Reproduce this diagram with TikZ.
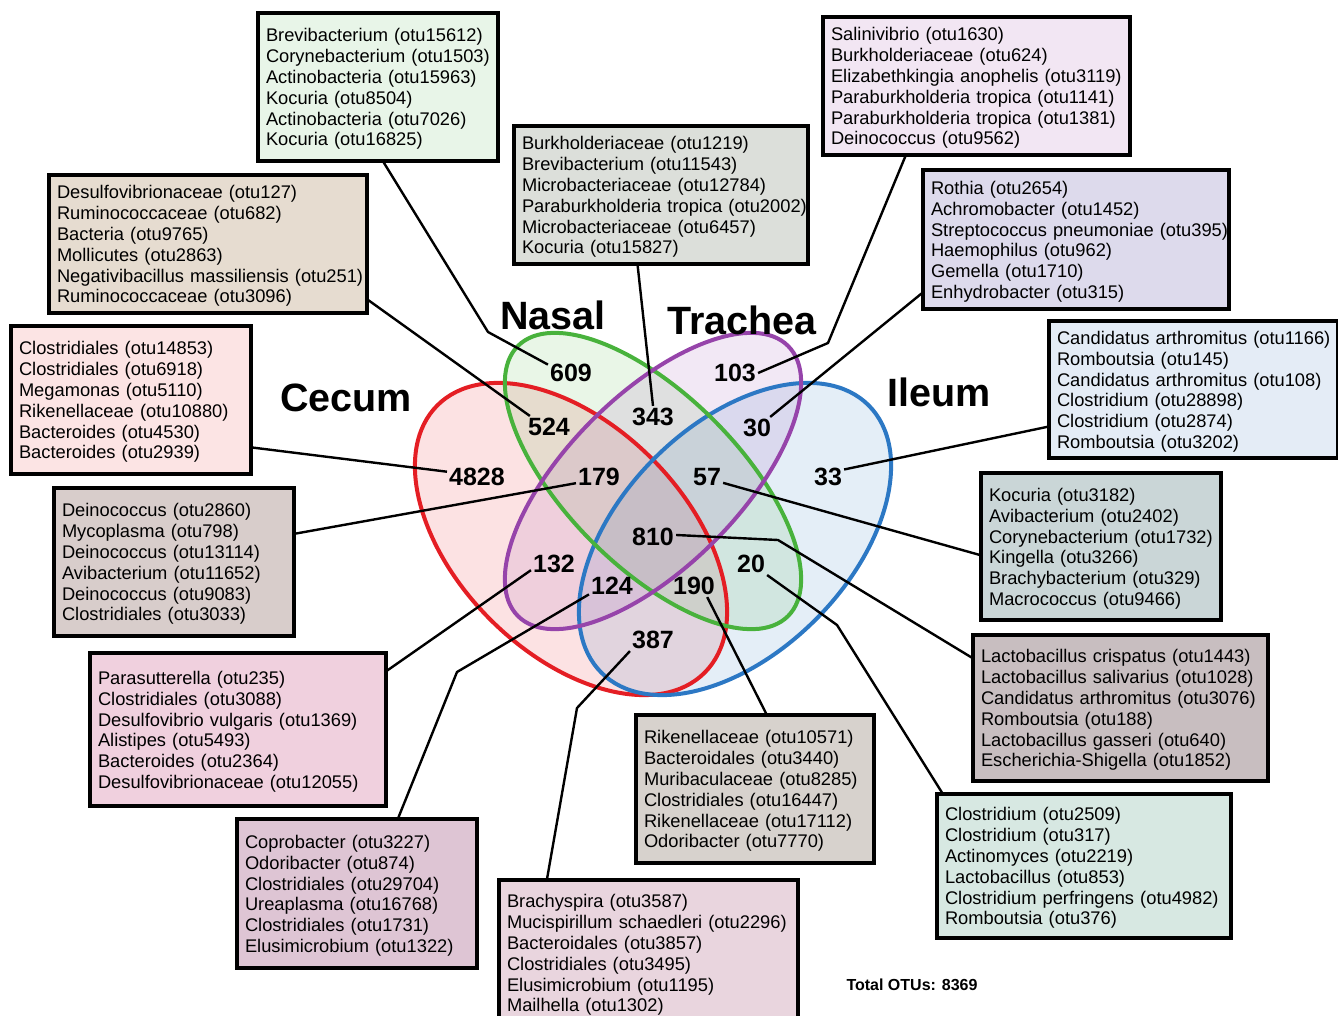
\documentclass[tikz,border=0pt]{standalone}
\usepackage{fontspec}
\setmainfont{Liberation Sans}
\usetikzlibrary{calc}
\definecolor{cred}{RGB}{228,30,36}
\definecolor{cgreen}{RGB}{72,178,60}
\definecolor{cpurple}{RGB}{150,68,170}
\definecolor{cblue}{RGB}{44,120,196}
\definecolor{f609}{RGB}{232,245,232}
\definecolor{f524}{RGB}{230,220,208}
\definecolor{f4828}{RGB}{252,228,228}
\definecolor{f179}{RGB}{216,205,203}
\definecolor{f132}{RGB}{240,208,222}
\definecolor{f124}{RGB}{222,197,212}
\definecolor{f387}{RGB}{233,213,222}
\definecolor{f190}{RGB}{215,210,205}
\definecolor{f20}{RGB}{215,232,226}
\definecolor{f810}{RGB}{200,190,192}
\definecolor{f57}{RGB}{202,214,215}
\definecolor{f33}{RGB}{228,236,246}
\definecolor{f30}{RGB}{221,218,236}
\definecolor{f103}{RGB}{242,230,243}
\definecolor{f343}{RGB}{220,223,218}
\newcommand{\otulist}[1]{\noindent\raisebox{0pt}[\dimexpr\height+5.5pt\relax][\depth]{\begin{tabular}{@{}l@{}}#1\end{tabular}}}
\begin{document}
\begin{tikzpicture}[x=1pt,y=-1pt,
  otubox/.style={draw=black, line width=3.6pt, rectangle, inner xsep=8pt, inner ysep=2pt,
    outer sep=0pt, align=left, anchor=north west, font=\fontsize{18.3}{20.8}\selectfont},
  num/.style={font=\fontsize{25}{30}\selectfont\bfseries, inner sep=2pt},
  setlab/.style={font=\fontsize{39.5}{47}\selectfont\bfseries, inner sep=0pt},
  conn/.style={line width=2.4pt, black, line join=miter},
  ell/.style={line width=4pt}]
\useasboundingbox (0,0) rectangle (1338,1016);

% ellipse fills
\fill[cred, fill opacity=0.13, rotate around={-45:(571,539)}] (571,539) ellipse [x radius=189, y radius=114];
\fill[cblue, fill opacity=0.13, rotate around={45:(735,539)}] (735,539) ellipse [x radius=189, y radius=114];
\fill[cgreen, fill opacity=0.12, rotate around={-45:(653,481)}] (653,481) ellipse [x radius=191, y radius=86];
\fill[cpurple, fill opacity=0.12, rotate around={45:(653,481)}] (653,481) ellipse [x radius=191, y radius=86];
% ellipse strokes
\draw[ell, cred, rotate around={-45:(571,539)}] (571,539) ellipse [x radius=189, y radius=114];
\draw[ell, cblue, rotate around={45:(735,539)}] (735,539) ellipse [x radius=189, y radius=114];
\draw[ell, cgreen, rotate around={-45:(653,481)}] (653,481) ellipse [x radius=191, y radius=86];
\draw[ell, cpurple, rotate around={45:(653,481)}] (653,481) ellipse [x radius=191, y radius=86];

% set labels
\node[setlab] (lNasal) at (553,315) {Nasal};
\node[setlab] (lTrachea) at (742,320) {Trachea};
\node[setlab] (lCecum) at (346,398) {Cecum};
\node[setlab] (lIleum) at (939,392) {Ileum};

% numbers
\node[num] (n609) at (571,373) {609};
\node[num] (n524) at (549,427) {524};
\node[num] (n343) at (653,417) {343};
\node[num] (n103) at (735,373) {103};
\node[num] (n30) at (757,428) {30};
\node[num] (n4828) at (477,477) {4828};
\node[num] (n179) at (599,477) {179};
\node[num] (n57) at (707,477) {57};
\node[num] (n33) at (828,477) {33};
\node[num] (n810) at (653,537) {810};
\node[num] (n132) at (554,564) {132};
\node[num] (n124) at (612,586) {124};
\node[num] (n190) at (694,586) {190};
\node[num] (n20) at (751,564) {20};
\node[num] (n387) at (653,640) {387};

% boxes
\node[otubox, fill=f609, minimum width=240pt, minimum height=148pt, text width=224pt] (b609) at (258,13) {\otulist{Brevibacterium (otu15612)\\Corynebacterium (otu1503)\\Actinobacteria (otu15963)\\Kocuria (otu8504)\\Actinobacteria (otu7026)\\Kocuria (otu16825)}};
\node[otubox, fill=f524, minimum width=318pt, minimum height=138pt, text width=302pt] (b524) at (49,175) {\otulist{Desulfovibrionaceae (otu127)\\Ruminococcaceae (otu682)\\Bacteria (otu9765)\\Mollicutes (otu2863)\\Negativibacillus massiliensis (otu251)\\Ruminococcaceae (otu3096)}};
\node[otubox, fill=f4828, minimum width=240pt, minimum height=148pt, text width=224pt] (b4828) at (11,326) {\otulist{Clostridiales (otu14853)\\Clostridiales (otu6918)\\Megamonas (otu5110)\\Rikenellaceae (otu10880)\\Bacteroides (otu4530)\\Bacteroides (otu2939)}};
\node[otubox, fill=f179, minimum width=240pt, minimum height=148pt, text width=224pt] (b179) at (54,488) {\otulist{Deinococcus (otu2860)\\Mycoplasma (otu798)\\Deinococcus (otu13114)\\Avibacterium (otu11652)\\Deinococcus (otu9083)\\Clostridiales (otu3033)}};
\node[otubox, fill=f132, minimum width=296pt, minimum height=153pt, text width=280pt] (b132) at (90,653) {\otulist{Parasutterella (otu235)\\Clostridiales (otu3088)\\Desulfovibrio vulgaris (otu1369)\\Alistipes (otu5493)\\Bacteroides (otu2364)\\Desulfovibrionaceae (otu12055)}};
\node[otubox, fill=f124, minimum width=240pt, minimum height=149pt, text width=224pt] (b124) at (237,819) {\otulist{Coprobacter (otu3227)\\Odoribacter (otu874)\\Clostridiales (otu29704)\\Ureaplasma (otu16768)\\Clostridiales (otu1731)\\Elusimicrobium (otu1322)}};
\node[otubox, fill=f387, minimum width=299pt, minimum height=146pt, text width=283pt] (b387) at (499,880) {\otulist{Brachyspira (otu3587)\\Mucispirillum schaedleri (otu2296)\\Bacteroidales (otu3857)\\Clostridiales (otu3495)\\Elusimicrobium (otu1195)\\Mailhella (otu1302)}};
\node[otubox, fill=f190, minimum width=238pt, minimum height=148pt, text width=222pt] (b190) at (636,715) {\otulist{Rikenellaceae (otu10571)\\Bacteroidales (otu3440)\\Muribaculaceae (otu8285)\\Clostridiales (otu16447)\\Rikenellaceae (otu17112)\\Odoribacter (otu7770)}};
\node[otubox, fill=f20, minimum width=294pt, minimum height=144pt, text width=278pt] (b20) at (937,794) {\otulist{Clostridium (otu2509)\\Clostridium (otu317)\\Actinomyces (otu2219)\\Lactobacillus (otu853)\\Clostridium perfringens (otu4982)\\Romboutsia (otu376)}};
\node[otubox, fill=f810, minimum width=295pt, minimum height=146pt, text width=279pt] (b810) at (973,635) {\otulist{Lactobacillus crispatus (otu1443)\\Lactobacillus salivarius (otu1028)\\Candidatus arthromitus (otu3076)\\Romboutsia (otu188)\\Lactobacillus gasseri (otu640)\\Escherichia-Shigella (otu1852)}};
\node[otubox, fill=f57, minimum width=240pt, minimum height=147pt, text width=224pt] (b57) at (981,473) {\otulist{Kocuria (otu3182)\\Avibacterium (otu2402)\\Corynebacterium (otu1732)\\Kingella (otu3266)\\Brachybacterium (otu329)\\Macrococcus (otu9466)}};
\node[otubox, fill=f33, minimum width=289pt, minimum height=137pt, text width=273pt] (b33) at (1049,321) {\otulist{Candidatus arthromitus (otu1166)\\Romboutsia (otu145)\\Candidatus arthromitus (otu108)\\Clostridium (otu28898)\\Clostridium (otu2874)\\Romboutsia (otu3202)}};
\node[otubox, fill=f30, minimum width=306pt, minimum height=139pt, text width=290pt] (b30) at (923,170) {\otulist{Rothia (otu2654)\\Achromobacter (otu1452)\\Streptococcus pneumoniae (otu395)\\Haemophilus (otu962)\\Gemella (otu1710)\\Enhydrobacter (otu315)}};
\node[otubox, fill=f103, minimum width=307pt, minimum height=138pt, text width=291pt] (b103) at (823,17) {\otulist{Salinivibrio (otu1630)\\Burkholderiaceae (otu624)\\Elizabethkingia anophelis (otu3119)\\Paraburkholderia tropica (otu1141)\\Paraburkholderia tropica (otu1381)\\Deinococcus (otu9562)}};
\node[otubox, fill=f343, minimum width=294pt, minimum height=138pt, text width=278pt] (b343) at (514,126) {\otulist{Burkholderiaceae (otu1219)\\Brevibacterium (otu11543)\\Microbacteriaceae (otu12784)\\Paraburkholderia tropica (otu2002)\\Microbacteriaceae (otu6457)\\Kocuria (otu15827)}};

\node[font=\fontsize{16}{19}\selectfont\bfseries, inner sep=0pt] (total) at (912,985) {Total OTUs: 8369};

% bend points
\coordinate (k609) at (488,332);
\coordinate (k103) at (828,343);
\coordinate (k810) at (778,540);
\coordinate (k20) at (837,625);
\coordinate (k387) at (577,708);
\coordinate (k124) at (457,672);

% connectors
\draw[conn] ($(b609.south west)!0.52!(b609.south east)$) -- (k609) -- (n609.160);
\draw[conn] ($(b524.north east)!0.9!(b524.south east)$) -- (n524.150);
\draw[conn] ($(b343.south west)!0.42!(b343.south east)$) -- (n343.north);
\draw[conn] ($(b103.south west)!0.27!(b103.south east)$) -- (k103) -- (n103.east);
\draw[conn] ($(b30.north west)!0.88!(b30.south west)$) -- (n30.40);
\draw[conn] ($(b4828.north east)!0.82!(b4828.south east)$) -- (n4828.170);
\draw[conn] ($(b179.north east)!0.31!(b179.south east)$) -- (n179.195);
\draw[conn] (n57.-20) -- ($(b57.north west)!0.56!(b57.south west)$);
\draw[conn] (n33.25) -- ($(b33.north west)!0.77!(b33.south west)$);
\draw[conn] (n810.5) -- (k810) -- ($(b810.north west)!0.16!(b810.south west)$);
\draw[conn] (n20.south east) -- (k20) -- ($(b20.north west)!0.02!(b20.north east)$);
\draw[conn] (n190.-40) -- ($(b190.north west)!0.55!(b190.north east)$);
\draw[conn] (n387.south west) -- (k387) -- ($(b387.north west)!0.16!(b387.north east)$);
\draw[conn] (n124.200) -- (k124) -- ($(b124.north west)!0.67!(b124.north east)$);
\draw[conn] (n132.195) -- ($(b132.north east)!0.12!(b132.south east)$);
\end{tikzpicture}
\end{document}
